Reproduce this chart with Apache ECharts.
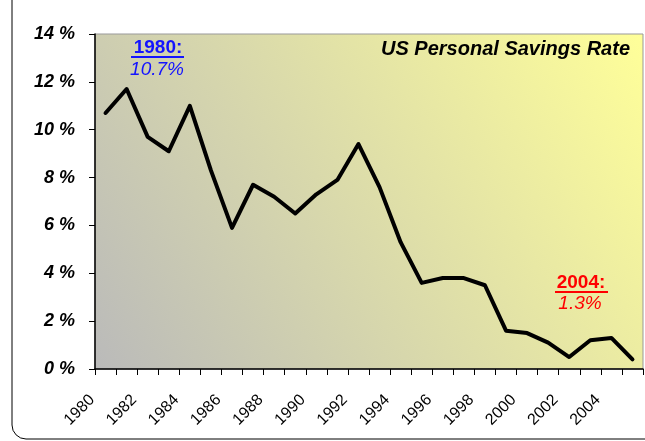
<!DOCTYPE html>
<html>
<head>
<meta charset="utf-8">
<script src="https://cdn.jsdelivr.net/npm/echarts@6/dist/echarts.min.js"></script>
<style>
  html, body { margin: 0; padding: 0; background: #fff; }
  #chart { width: 645px; height: 441px; }
</style>
</head>
<body>
<div id="chart"></div>
<script>
  var years = ['1980', '1981', '1982', '1983', '1984', '1985', '1986', '1987', '1988', '1989',
    '1990', '1991', '1992', '1993', '1994', '1995', '1996', '1997', '1998', '1999',
    '2000', '2001', '2002', '2003', '2004', '2005'];
  var savingsRate = [10.7, 11.7, 9.7, 9.1, 11.0, 8.3, 5.9, 7.7, 7.2, 6.5,
    7.3, 7.9, 9.4, 7.6, 5.3, 3.6, 3.8, 3.8, 3.5, 1.6,
    1.5, 1.1, 0.5, 1.2, 1.3, 0.4];
  var yTicks = { min: 0, max: 14, step: 2 };

  var font = '"Liberation Sans", Arial, sans-serif';
  var chart = echarts.init(document.getElementById('chart'));

  chart.setOption({
    animation: false,
    backgroundColor: '#fff',
    title: {
      text: 'US Personal Savings Rate',
      right: 10,
      top: 34,
      textStyle: { fontFamily: font, fontSize: 20, fontWeight: 'bold', fontStyle: 'italic', color: '#000' }
    },
    grid: {
      left: 95, right: 2, top: 34, bottom: 72,
      show: true,
      borderColor: '#999',
      borderWidth: 1,
      backgroundColor: {
        type: 'linear', x: 0, y: 1, x2: 1, y2: 0,
        colorStops: [
          { offset: 0, color: '#bababa' },
          { offset: 1, color: '#ffff99' }
        ]
      }
    },
    xAxis: {
      type: 'category',
      data: years,
      boundaryGap: true,
      axisLine: { lineStyle: { color: '#000', width: 1.5 } },
      axisTick: { show: true, interval: 0, alignWithLabel: false, length: 6, lineStyle: { color: '#000' } },
      axisLabel: {
        interval: 1,
        rotate: 45,
        margin: 15,
        formatter: function (v) { return '{y|' + v + '}{s|}'; },
        rich: {
          y: { fontFamily: font, fontSize: 16, color: '#000' },
          s: { width: 19 }
        }
      },
      splitLine: { show: false }
    },
    yAxis: {
      type: 'value',
      min: yTicks.min,
      max: yTicks.max,
      interval: yTicks.step,
      axisLine: { show: true, lineStyle: { color: '#000', width: 1.5 } },
      axisTick: { show: true, length: 6, lineStyle: { color: '#000' } },
      axisLabel: {
        formatter: '{value} %',
        margin: 20,
        fontFamily: font,
        fontSize: 18,
        fontWeight: 'bold',
        fontStyle: 'italic',
        color: '#000'
      },
      splitLine: { show: false }
    },
    series: [{
      type: 'line',
      data: savingsRate,
      symbol: 'none',
      lineStyle: { color: '#000', width: 4, join: 'round', cap: 'round' }
    }],
    graphic: [
      // outer frame
      { type: 'rect', x: 12, y: -20, shape: { width: 700, height: 459, r: 14 },
        style: { fill: null, stroke: '#000', lineWidth: 1 }, silent: true },
      // 1980 note
      { type: 'text', x: 158, y: 48, style: { text: '1980:', fill: '#1414ff', font: 'bold 19px ' + font, align: 'center', verticalAlign: 'middle' } },
      { type: 'line', shape: { x1: 131, y1: 57, x2: 184, y2: 57 }, style: { stroke: '#1414ff', lineWidth: 2 } },
      { type: 'text', x: 157, y: 70, style: { text: '10.7%', fill: '#1414ff', font: 'italic 19px ' + font, align: 'center', verticalAlign: 'middle' } },
      // 2004 note
      { type: 'text', x: 581, y: 283, style: { text: '2004:', fill: '#ff0000', font: 'bold 19px ' + font, align: 'center', verticalAlign: 'middle' } },
      { type: 'line', shape: { x1: 555, y1: 292, x2: 608, y2: 292 }, style: { stroke: '#ff0000', lineWidth: 2 } },
      { type: 'text', x: 580, y: 304, style: { text: '1.3%', fill: '#ff0000', font: 'italic 19px ' + font, align: 'center', verticalAlign: 'middle' } }
    ]
  });
</script>
</body>
</html>
